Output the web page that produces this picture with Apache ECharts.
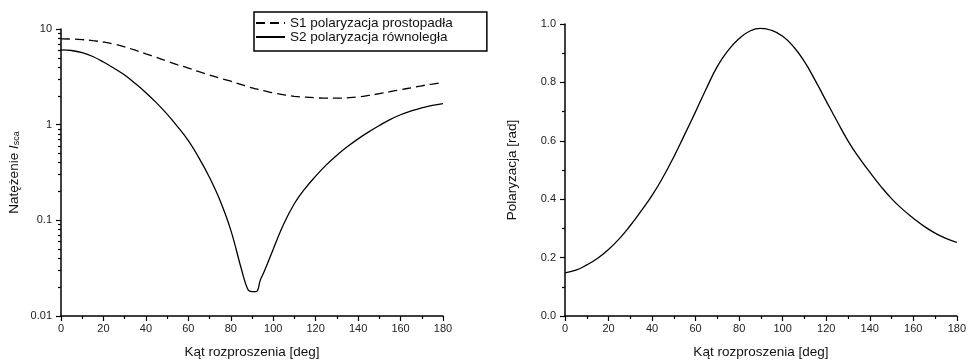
<!DOCTYPE html>
<html><head><meta charset="utf-8">
<script src="https://cdn.jsdelivr.net/npm/echarts@6/dist/echarts.min.js"></script>
<style>html,body{margin:0;padding:0;background:#fff}#c{width:969px;height:364px}</style>
</head><body><div id="c"></div>
<script>
// ---- data ----
const anglesLeft = [0,5,10,15,20,25,30,35,40,45,50,55,60,65,70,75,80,85,88,90,92,94,96,100,105,110,115,120,125,130,135,140,145,150,155,160,165,170,175,180];
const s1Perp = [7.9,7.85,7.75,7.55,7.3,6.95,6.5,6.0,5.5,5.05,4.6,4.22,3.9,3.58,3.3,3.06,2.85,2.62,2.5,2.42,2.36,2.3,2.25,2.15,2.05,1.98,1.94,1.91,1.89,1.89,1.91,1.95,2.02,2.11,2.21,2.32,2.43,2.55,2.66,2.76];
const s2Par = [6.05,5.96,5.66,5.16,4.52,3.89,3.3,2.69,2.16,1.69,1.29,0.95,0.68,0.45,0.28,0.16,0.079,0.031,0.019,0.018,0.018,0.024,0.03,0.05,0.092,0.15,0.215,0.29,0.38,0.48,0.59,0.71,0.84,0.98,1.13,1.27,1.39,1.5,1.59,1.66];
const anglesRight = [0,5,10,15,20,25,30,35,40,45,50,55,60,65,70,75,80,85,90,95,100,105,110,115,120,125,130,135,140,145,150,155,160,165,170,175,180];
const polarization = [0.148,0.157,0.175,0.198,0.228,0.265,0.31,0.36,0.413,0.475,0.545,0.622,0.70,0.78,0.855,0.91,0.95,0.976,0.985,0.978,0.958,0.922,0.871,0.806,0.736,0.667,0.60,0.543,0.493,0.445,0.402,0.366,0.335,0.307,0.284,0.266,0.252];
const logMinorTicks = [0.02,0.03,0.04,0.05,0.06,0.07,0.08,0.09,0.2,0.3,0.4,0.5,0.6,0.7,0.8,0.9,2,3,4,5,6,7,8,9];
const seriesNames = ['S1 polaryzacja prostopadła','S2 polaryzacja równoległa'];
const xName = 'Kąt rozproszenia [deg]';

const FONT = 'Liberation Sans, Arial, sans-serif';
const chart = echarts.init(document.getElementById('c'));

function xAxisCfg(g){
  return {
    gridIndex:g, type:'value', min:0, max:180, interval:20,
    name:xName, nameLocation:'middle', nameGap:29,
    nameTextStyle:{fontSize:13.5, color:'#111', fontFamily:FONT},
    axisLine:{lineStyle:{color:'#000', width:1.5}},
    axisTick:{show:true, length:5, lineStyle:{color:'#000', width:1.2}},
    minorTick:{show:true, splitNumber:2, length:3, lineStyle:{color:'#000', width:1.2}},
    splitLine:{show:false}, minorSplitLine:{show:false},
    axisLabel:{margin:7, fontSize:11, color:'#222', fontFamily:FONT}
  };
}

const option = {
  animation:false,
  backgroundColor:'#fff',
  textStyle:{fontFamily:FONT},
  grid:[
    {left:61, right:526, top:29, bottom:47},
    {left:565, right:10, top:24, bottom:45}
  ],
  legend:{
    data:seriesNames, orient:'vertical', left:254, top:12,
    padding:[4,34,7,1], itemWidth:29, itemHeight:10, itemGap:0,
    borderColor:'#000', borderWidth:1.5,
    itemStyle:{color:'transparent', borderWidth:0, opacity:0},
    textStyle:{fontSize:13.5, lineHeight:13.5, color:'#111', fontFamily:FONT}
  },
  xAxis:[xAxisCfg(0), xAxisCfg(1)],
  yAxis:[
    {
      gridIndex:0, type:'log', logBase:10, min:0.01, max:10, position:'left',
      name:'Natężenie {i|I}{s|sca}', nameLocation:'middle', nameGap:40,
      nameTextStyle:{fontSize:13.5, color:'#111', fontFamily:FONT,
        rich:{i:{fontSize:13.5, fontStyle:'italic', color:'#111', fontFamily:FONT},
              s:{fontSize:9, color:'#111', fontFamily:FONT, verticalAlign:'bottom', padding:[5,0,0,0]}}},
      axisLine:{show:true, lineStyle:{color:'#000', width:1.5}},
      axisTick:{show:true, length:5, lineStyle:{color:'#000', width:1.2}},
      splitLine:{show:false},
      axisLabel:{margin:9, fontSize:11, color:'#222', fontFamily:FONT,
        formatter:function(v){return String(v);}}
    },
    {
      gridIndex:0, type:'log', logBase:10, min:0.01, max:10, position:'left',
      axisLine:{show:false}, axisLabel:{show:false}, splitLine:{show:false},
      axisTick:{show:true, length:3, customValues:logMinorTicks, lineStyle:{color:'#000', width:1.2}}
    },
    {
      gridIndex:1, type:'value', min:0, max:1, interval:0.2,
      name:'Polaryzacja [rad]', nameLocation:'middle', nameGap:46,
      nameTextStyle:{fontSize:13.5, color:'#111', fontFamily:FONT},
      axisLine:{show:true, lineStyle:{color:'#000', width:1.5}},
      axisTick:{show:true, length:5, lineStyle:{color:'#000', width:1.2}},
      minorTick:{show:true, splitNumber:2, length:3, lineStyle:{color:'#000', width:1.2}},
      splitLine:{show:false}, minorSplitLine:{show:false},
      axisLabel:{margin:9, fontSize:11, color:'#222', fontFamily:FONT,
        formatter:function(v){return v.toFixed(1);}}
    }
  ],
  series:[
    {
      name:seriesNames[0], type:'line', xAxisIndex:0, yAxisIndex:0,
      data:anglesLeft.map((a,i)=>[a,s1Perp[i]]),
      symbol:'none', smooth:0.5, color:'#000',
      lineStyle:{color:'#000', width:1.3, type:[9,5]}
    },
    {
      name:seriesNames[1], type:'line', xAxisIndex:0, yAxisIndex:0,
      data:anglesLeft.map((a,i)=>[a,s2Par[i]]),
      symbol:'none', smooth:0.4, color:'#000',
      lineStyle:{color:'#000', width:1.3}
    },
    {
      name:'Polaryzacja', type:'line', xAxisIndex:1, yAxisIndex:2,
      data:anglesRight.map((a,i)=>[a,polarization[i]]),
      symbol:'none', smooth:0.5, color:'#000',
      lineStyle:{color:'#000', width:1.3}
    }
  ]
};
chart.setOption(option);
</script>
</body></html>
